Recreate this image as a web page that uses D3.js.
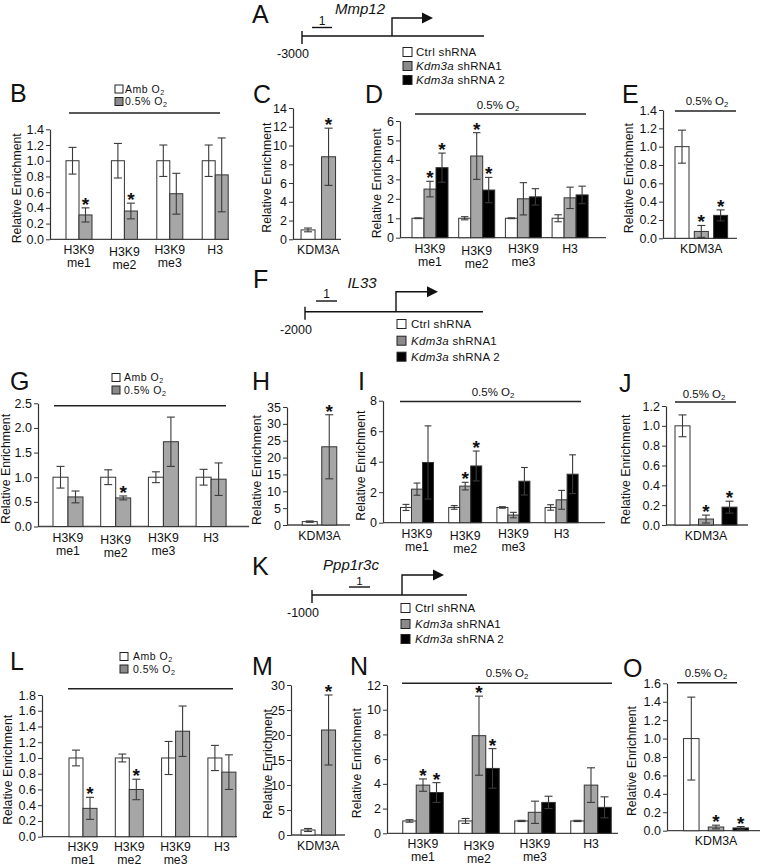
<!DOCTYPE html>
<html><head><meta charset="utf-8">
<script src="https://cdn.jsdelivr.net/npm/d3@7"></script>
<style>
body{margin:0;background:#fff}
svg{display:block}
text{font-family:"Liberation Sans",Arial,Helvetica,sans-serif;fill:#111}
</style>
</head><body><script>
// ---------------- DATA ----------------
const histoneCats = ["H3K9|me1","H3K9|me2","H3K9|me3","H3"];
const kdmCats = ["KDM3A"];
const o2Names = ["Amb O2","0.5% O2"];
const shNames = ["Ctrl shRNA","Kdm3a shRNA1","Kdm3a shRNA 2"];
const geneNames = ["Mmp12","IL33","Ppp1r3c"];
const geneStarts = ["-3000","-2000","-1000"];
const ampliconLabel = "1";
const hypoxiaLabel = "0.5% O2";
const yTitle = "Relative Enrichment";
const panelLetters = ["A","B","C","D","E","F","G","H","I","J","K","L","M","N","O"];

// B (Mmp12, Amb vs 0.5% O2)
const bTicks = [0,0.2,0.4,0.6,0.8,1.0,1.2,1.4];
const bAmb = [1.0,1.0,1.0,1.0];
const bAmbErr = [0.17,0.22,0.2,0.2];
const bHyp = [0.31,0.36,0.58,0.82];
const bHypErr = [0.09,0.1,0.26,0.47];
const bHypStar = [1,1,0,0];
// C (KDM3A ChIP, Mmp12)
const cTicks = [0,2,4,6,8,10,12,14];
const cVals = [1.0,8.8];
const cErr = [0.2,3.05];
const cStar = [0,1];
// D (Mmp12, shRNA)
const dTicks = [0,1,2,3,4,5,6];
const dCtrl = [1.0,1.0,1.0,1.0];
const dCtrlErr = [0.02,0.08,0.02,0.18];
const dSh1 = [2.5,4.2,2.0,2.05];
const dSh1Err = [0.4,1.2,0.83,0.55];
const dSh1Star = [1,1,0,0];
const dSh2 = [3.6,2.45,2.1,2.2];
const dSh2Err = [0.75,0.65,0.42,0.45];
const dSh2Star = [1,1,0,0];
// E (KDM3A, shRNA)
const eTicks = [0,0.2,0.4,0.6,0.8,1.0,1.2,1.4];
const eVals = [1.0,0.075,0.25];
const eErr = [0.18,0.065,0.06];
const eStar = [0,1,1];
// G (IL33)
const gTicks = [0,0.5,1.0,1.5,2.0,2.5];
const gAmb = [1.0,1.0,1.0,1.0];
const gAmbErr = [0.22,0.15,0.11,0.16];
const gHyp = [0.6,0.58,1.72,0.96];
const gHypErr = [0.12,0.04,0.5,0.33];
const gHypStar = [0,1,0,0];
// H
const hTicks = [0,5,10,15,20,25,30,35];
const hVals = [1.0,23.2];
const hErr = [0.2,9.5];
const hStar = [0,1];
// I
const iTicks = [0,2,4,6,8];
const iCtrl = [1.0,1.0,1.0,1.0];
const iCtrlErr = [0.2,0.12,0.05,0.18];
const iSh1 = [2.2,2.4,0.5,1.5];
const iSh1Err = [0.4,0.25,0.18,0.62];
const iSh1Star = [0,1,0,0];
const iSh2 = [3.95,3.72,2.72,3.18];
const iSh2Err = [2.4,0.98,0.9,1.27];
const iSh2Star = [0,1,0,0];
// J
const jTicks = [0,0.2,0.4,0.6,0.8,1.0,1.2];
const jVals = [1.0,0.06,0.18];
const jErr = [0.11,0.04,0.06];
const jStar = [0,1,1];
// L (Ppp1r3c)
const lTicks = [0,0.2,0.4,0.6,0.8,1.0,1.2,1.4,1.6,1.8];
const lAmb = [1.0,1.0,1.0,1.0];
const lAmbErr = [0.1,0.05,0.21,0.16];
const lHyp = [0.36,0.6,1.34,0.82];
const lHypErr = [0.14,0.13,0.32,0.22];
const lHypStar = [1,1,0,0];
// M
const mTicks = [0,5,10,15,20,25,30];
const mVals = [1.0,21.0];
const mErr = [0.3,7.0];
const mStar = [0,1];
// N
const nTicks = [0,2,4,6,8,10,12];
const nCtrl = [1.0,1.0,1.0,1.0];
const nCtrlErr = [0.1,0.2,0.05,0.05];
const nSh1 = [3.9,7.9,1.7,3.9];
const nSh1Err = [0.5,3.2,0.9,1.4];
const nSh1Star = [1,1,0,0];
const nSh2 = [3.3,5.25,2.5,2.1];
const nSh2Err = [0.8,1.6,0.5,0.85];
const nSh2Star = [1,1,0,0];
// O
const oTicks = [0,0.2,0.4,0.6,0.8,1.0,1.2,1.4,1.6];
const oVals = [1.0,0.04,0.03];
const oErr = [0.45,0.02,0.015];
const oStar = [0,1,1];

// ---------------- DRAWING ----------------
const FONT = '"Liberation Sans",Arial,Helvetica,sans-serif';
const FILLS = ["#ffffff","#a6a6a6","#000000"];
const LEG_FILLS = ["#ffffff","#8a8a8a","#000000"];
const svg = d3.select("body").append("svg").attr("width",763).attr("height",868);

function o2Label(sel, str, size){
  if (str.endsWith("O2")) {
    sel.text(null);
    sel.append("tspan").text(str.slice(0,-1));
    sel.append("tspan").attr("font-size", size*0.68).attr("dy", 2).text("2");
  } else sel.text(str);
}
function shLabel(sel, str){
  if (str.startsWith("Kdm3a")) {
    sel.append("tspan").attr("font-style","italic").text("Kdm3a");
    sel.append("tspan").text(str.slice(5));
  } else sel.text(str);
}
function letter(ch, x, y){
  svg.append("text").attr("x",x).attr("y",y).attr("font-size",25).text(ch);
}
function grouped(names, valsArr, errArr, starArr){
  return names.map((n,j)=>({name:n, vals:valsArr[j], errs:errArr[j], stars:starArr[j]}));
}
function single(names, vals, errs, stars){
  return names.map((n,j)=>({name:n, vals:[vals[j]], errs:[errs[j]], stars:[stars[j]]}));
}

function barPanel(p){
  const g = svg.append("g");
  const y = d3.scaleLinear().domain([0,p.max]).range([p.yBot,p.yTop]);
  const n = p.cats.length;
  const xg = d3.scalePoint().domain(p.cats).range([p.c0, p.c0 + (n-1)*(p.step||0)]);
  const names = p.series.map(s=>s.name);
  const m = names.length;
  const xs = d3.scalePoint().domain(names).range([-(m-1)/2*p.sp, (m-1)/2*p.sp]);

  const ax = g.append("g").attr("transform",`translate(${p.x0},0)`)
    .call(d3.axisLeft(y).tickValues(p.ticks).tickFormat(p.fmt).tickSize(4).tickSizeOuter(0));
  ax.attr("font-family",FONT);
  ax.select(".domain").attr("stroke","#333").attr("stroke-width",1.2);
  ax.selectAll(".tick line").attr("stroke","#333");
  ax.selectAll(".tick text").attr("font-size",12.5).attr("fill","#1a1a1a").attr("x",-6);

  g.append("line").attr("x1",p.x0).attr("x2",p.x1).attr("y1",p.yBot).attr("y2",p.yBot)
    .attr("stroke","#444").attr("stroke-width",1.3);

  p.series.forEach((s,j)=>{
    s.vals.forEach((v,i)=>{
      const cx = xg(p.cats[i]) + xs(s.name);
      g.append("rect").attr("x",cx-p.barW/2).attr("y",y(v))
        .attr("width",p.barW).attr("height",Math.max(0,p.yBot-y(v)))
        .attr("fill",FILLS[j]).attr("stroke","#333").attr("stroke-width",1);
    });
  });
  const cw = Math.min(8, p.barW*0.62);
  p.series.forEach((s,j)=>{
    s.vals.forEach((v,i)=>{
      const cx = xg(p.cats[i]) + xs(s.name);
      const e = s.errs[i];
      const yt = y(v+e), yb = y(Math.max(0,v-e));
      const col = "#3a3a3a";
      g.append("line").attr("x1",cx).attr("x2",cx).attr("y1",yt).attr("y2",yb).attr("stroke",col).attr("stroke-width",1.1);
      g.append("line").attr("x1",cx-cw/2).attr("x2",cx+cw/2).attr("y1",yt).attr("y2",yt).attr("stroke",col).attr("stroke-width",1.1);
      g.append("line").attr("x1",cx-cw/2).attr("x2",cx+cw/2).attr("y1",yb).attr("y2",yb).attr("stroke",col).attr("stroke-width",1.1);
      if (s.stars[i]) {
        g.append("text").attr("x",cx).attr("y",yt+3).attr("text-anchor","middle")
          .attr("font-size",19).attr("font-weight","bold").text("*");
      }
    });
  });

  const stagger = p.stagger === undefined ? 2 : p.stagger;
  p.cats.forEach((c,i)=>{
    const lines = c.split("|");
    const off = (n>1 && i===1) ? stagger : 0;
    const t = g.append("text").attr("text-anchor","middle").attr("font-size",12.3)
      .attr("x", xg(c)).attr("y", p.yBot + (n>1 ? (p.lab1 || 15) : 14.5) + off);
    lines.forEach((ln,k)=>{
      t.append("tspan").attr("x",xg(c)).attr("dy", k===0?0:13).text(ln);
    });
  });

  g.append("text").attr("transform",`translate(${p.titleX},${(p.yTop+p.yBot)/2+4}) rotate(-90)`)
    .attr("text-anchor","middle").attr("dominant-baseline","middle").attr("font-size",12.3).text(yTitle);

  if (p.hdr) {
    g.append("line").attr("x1",p.hdr.x1).attr("x2",p.hdr.x2).attr("y1",p.hdr.y).attr("y2",p.hdr.y)
      .attr("stroke","#222").attr("stroke-width",1.6);
    if (p.hdr.tx) {
      const t = g.append("text").attr("x",p.hdr.tx).attr("y",p.hdr.ty).attr("text-anchor","middle").attr("font-size",11.5);
      o2Label(t, hypoxiaLabel, 11.5);
    }
  }
  if (p.legend) {
    names.forEach((nm,j)=>{
      const yy = p.legend.ys[j];
      g.append("rect").attr("x",p.legend.sqX).attr("y",yy-4).attr("width",8).attr("height",8)
        .attr("fill",LEG_FILLS[j]).attr("stroke","#222").attr("stroke-width",1);
      const t = g.append("text").attr("x",p.legend.tx).attr("y",yy+3.8).attr("font-size",10.5).attr("letter-spacing",0.5);
      o2Label(t, nm, 10.5);
    });
  }
  letter(p.letter, p.lx, p.ly);
}

function shLegend(sqX, tx, ys){
  shNames.forEach((nm,j)=>{
    svg.append("rect").attr("x",sqX).attr("y",ys[j]-4.5).attr("width",9).attr("height",9)
      .attr("fill",LEG_FILLS[j]).attr("stroke","#222").attr("stroke-width",1);
    const t = svg.append("text").attr("x",tx).attr("y",ys[j]+4.3).attr("font-size",11.5).attr("letter-spacing",0.3);
    shLabel(t, nm);
  });
}

function gene(c){
  const g = svg.append("g");
  g.append("text").attr("x",c.nameX).attr("y",c.nameY).attr("text-anchor","middle")
    .attr("font-style","italic").attr("font-size",15).text(c.name);
  g.append("text").attr("x",(c.ul1+c.ul2)/2).attr("y",c.oneY).attr("text-anchor","middle")
    .attr("font-size",c.oneSize||12).text(ampliconLabel);
  g.append("line").attr("x1",c.ul1).attr("x2",c.ul2).attr("y1",c.ulY).attr("y2",c.ulY).attr("stroke","#111").attr("stroke-width",1.4);
  g.append("line").attr("x1",c.sx).attr("x2",c.sx).attr("y1",c.lineY-5).attr("y2",c.lineY+8).attr("stroke","#111").attr("stroke-width",1.4);
  g.append("line").attr("x1",c.sx).attr("x2",c.ex).attr("y1",c.lineY).attr("y2",c.lineY).attr("stroke","#111").attr("stroke-width",1.4);
  g.append("path").attr("d",`M${c.tss},${c.lineY}V${c.tssTop}H${c.ax-8}`).attr("fill","none").attr("stroke","#111").attr("stroke-width",1.4);
  g.append("path").attr("d",`M${c.ax},${c.tssTop}L${c.ax-11},${c.tssTop-5.5}L${c.ax-11},${c.tssTop+5.5}Z`).attr("fill","#111");
  g.append("text").attr("x",c.sx-9).attr("y",c.lineY+22).attr("text-anchor","middle").attr("font-size",12.5).text(c.start);
  letter(c.letter, c.lx, c.ly);
}

const f1 = d3.format(".1f"), fd = d3.format("d");

// ---- Row 1 ----
gene({name:geneNames[0], nameX:360, nameY:14, ul1:312, ul2:332, oneY:25, ulY:27.5,
      sx:302, ex:484, lineY:36, tss:392, tssTop:18, ax:433, start:geneStarts[0], letter:panelLetters[0], lx:252, ly:23});
shLegend(403, 416, [52,66,80]);

barPanel({letter:panelLetters[1], lx:10, ly:102, x0:50, x1:229, yTop:129.3, yBot:239.3, max:1.4, ticks:bTicks, fmt:f1,
  cats:histoneCats, c0:79, step:45.4, barW:13, sp:13, titleX:18,
  series:grouped(o2Names,[bAmb,bHyp],[bAmbErr,bHypErr],[[0,0,0,0],bHypStar]),
  legend:{sqX:115, tx:125, ys:[89,101.5]}, hdr:{x1:69,x2:220,y:113}});

barPanel({letter:panelLetters[2], lx:253, ly:103, x0:293, x1:341, yTop:108, yBot:239.3, max:14, ticks:cTicks, fmt:fd,
  cats:kdmCats, c0:318.3, barW:14, sp:20.5, titleX:268,
  series:single(o2Names,cVals,cErr,cStar)});

barPanel({letter:panelLetters[3], lx:365, ly:103, x0:400, x1:606, yTop:121, yBot:237.7, max:6, ticks:dTicks, fmt:fd,
  cats:histoneCats, c0:430, step:46.7, barW:12, sp:12, titleX:378,
  series:grouped(shNames,[dCtrl,dSh1,dSh2],[dCtrlErr,dSh1Err,dSh2Err],[[0,0,0,0],dSh1Star,dSh2Star]),
  hdr:{x1:415,x2:586,y:114,tx:498,ty:109}});

barPanel({letter:panelLetters[4], lx:622, ly:103, x0:663, x1:737, yTop:110, yBot:238.3, max:1.4, ticks:eTicks, fmt:f1,
  cats:kdmCats, c0:701.3, barW:14, sp:19.3, titleX:630,
  series:single(shNames,eVals,eErr,eStar),
  hdr:{x1:675,x2:736,y:111,tx:707,ty:105}});

// ---- Row 2 ----
gene({name:geneNames[1], nameX:362, nameY:288, ul1:316, ul2:337, oneY:298, ulY:301,
      sx:305, ex:483, lineY:311.7, tss:396, tssTop:291.7, ax:438, start:geneStarts[1], letter:panelLetters[5], lx:253, ly:288});
shLegend(397, 411, [324,340.7,356.7]);

barPanel({letter:panelLetters[6], lx:10, ly:390, x0:38, x1:249, yTop:403.3, yBot:526.5, max:2.5, ticks:gTicks, fmt:f1,
  cats:histoneCats, c0:68, step:47.7, barW:15, sp:15, titleX:7,
  series:grouped(o2Names,[gAmb,gHyp],[gAmbErr,gHypErr],[[0,0,0,0],gHypStar]),
  legend:{sqX:112, tx:124, ys:[377.5,390]}, hdr:{x1:54,x2:226,y:405.7}});

barPanel({letter:panelLetters[7], lx:252, ly:390, x0:287, x1:350, yTop:407, yBot:525, max:35, ticks:hTicks, fmt:fd,
  cats:kdmCats, c0:319.5, barW:15, sp:19.5, titleX:258,
  series:single(o2Names,hVals,hErr,hStar)});

barPanel({letter:panelLetters[8], lx:358, ly:390, x0:383, x1:605, yTop:400.7, yBot:522.7, max:8, ticks:iTicks, fmt:fd,
  cats:histoneCats, c0:417, step:48.2, barW:11, sp:11, titleX:362,
  series:grouped(shNames,[iCtrl,iSh1,iSh2],[iCtrlErr,iSh1Err,iSh2Err],[[0,0,0,0],iSh1Star,iSh2Star]),
  hdr:{x1:400,x2:581,y:401.5,tx:493,ty:396}});

barPanel({letter:panelLetters[9], lx:619, ly:392, x0:666, x1:748, yTop:406, yBot:525, max:1.2, ticks:jTicks, fmt:f1,
  cats:kdmCats, c0:706, barW:15, sp:23.5, titleX:627,
  series:single(shNames,jVals,jErr,jStar),
  hdr:{x1:675,x2:736,y:402,tx:704,ty:398}});

// ---- Row 3 ----
gene({name:geneNames[2], nameX:351, nameY:569.5, ul1:349, ul2:370, oneY:584.5, oneSize:11.5, ulY:587,
      sx:312, ex:467, lineY:595, tss:402, tssTop:575, ax:444, start:geneStarts[2], letter:panelLetters[10], lx:252, ly:575});
shLegend(401, 415, [608,624,639]);

barPanel({letter:panelLetters[11], lx:10, ly:670, x0:42, x1:237, yTop:695, yBot:836.7, max:1.8, ticks:lTicks, fmt:f1,
  cats:histoneCats, c0:83, step:46.3, barW:14, sp:14, titleX:9, stagger:0, lab1:14,
  series:grouped(o2Names,[lAmb,lHyp],[lAmbErr,lHypErr],[[0,0,0,0],lHypStar]),
  legend:{sqX:120, tx:133, ys:[656.5,669]}, hdr:{x1:68,x2:233,y:688.7}});

barPanel({letter:panelLetters[12], lx:252, ly:675, x0:291, x1:345, yTop:685, yBot:835, max:30, ticks:mTicks, fmt:fd,
  cats:kdmCats, c0:318.3, barW:14, sp:20.5, titleX:269,
  series:single(o2Names,mVals,mErr,mStar)});

barPanel({letter:panelLetters[13], lx:350, ly:675, x0:387, x1:618, yTop:685, yBot:833.3, max:12, ticks:nTicks, fmt:fd,
  cats:histoneCats, c0:423, step:56, barW:13.5, sp:13.5, titleX:358,
  series:grouped(shNames,[nCtrl,nSh1,nSh2],[nCtrlErr,nSh1Err,nSh2Err],[[0,0,0,0],nSh1Star,nSh2Star]),
  hdr:{x1:402,x2:612,y:683.3,tx:507,ty:677}});

barPanel({letter:panelLetters[14], lx:623, ly:677, x0:667, x1:760, yTop:683.3, yBot:830.7, max:1.6, ticks:oTicks, fmt:f1,
  cats:kdmCats, c0:716, barW:15.5, sp:24.7, titleX:633,
  series:single(shNames,oVals,oErr,oStar),
  hdr:{x1:677,x2:737,y:682.7,tx:706,ty:677}});
</script></body></html>
